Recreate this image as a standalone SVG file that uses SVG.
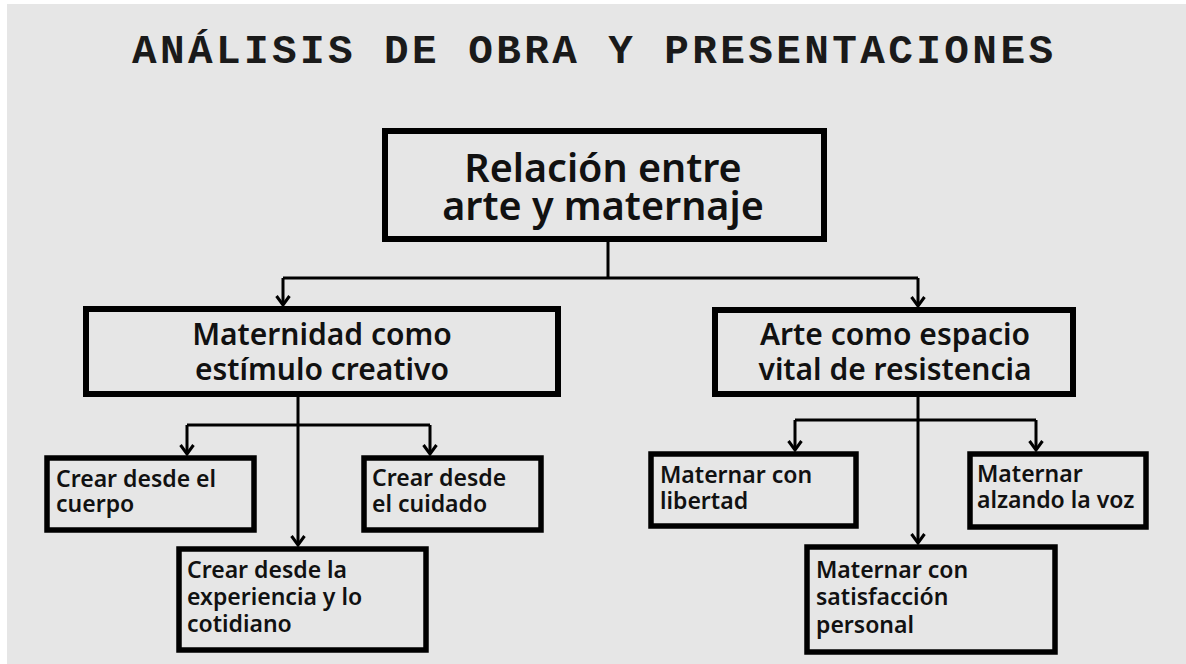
<svg xmlns="http://www.w3.org/2000/svg" width="1186" height="664" viewBox="0 0 1186 664">
<style>
.box{fill:#e6e6e6;stroke:#000;stroke-width:6}
.bx{fill:#e6e6e6;stroke:#000;stroke-width:5.5}
.t{font-family:"Noto Sans","Open Sans","Liberation Sans",sans-serif;font-weight:600;fill:#111}
.root{font-size:39.5px;text-anchor:middle}
.mid{font-size:30px;text-anchor:middle}
.sm{font-size:23px}
.title{font-family:"Liberation Mono","Courier New",monospace;font-weight:700;font-size:41px;fill:#1a1a1a}
.c{fill:none;stroke:#000;stroke-width:3}
</style>
<defs>
<marker id="ah" markerUnits="userSpaceOnUse" viewBox="-12 -9 14 18" refX="0" refY="0" markerWidth="14" markerHeight="18" orient="auto">
<path d="M-9,-6.5 L0,0 L-9,6.5" fill="none" stroke="#000" stroke-width="3"/>
</marker>
</defs>
<rect x="0" y="0" width="1186" height="664" fill="#fff"/>
<rect x="7" y="4" width="1179" height="660" fill="#e6e6e6"/>
<text class="title" x="132" y="63" textLength="921" lengthAdjust="spacing">ANÁLISIS DE OBRA Y PRESENTACIONES</text>
<g id="connectors">
<path class="c" d="M608,242 V278 M283,278 H918"/>
<path class="c" d="M283,278 V305" marker-end="url(#ah)"/>
<path class="c" d="M918,278 V306" marker-end="url(#ah)"/>
<path class="c" d="M187,425 H430"/>
<path class="c" d="M298,397 V545" marker-end="url(#ah)"/>
<path class="c" d="M187,425 V454" marker-end="url(#ah)"/>
<path class="c" d="M430,425 V454" marker-end="url(#ah)"/>
<path class="c" d="M795,420 H1036"/>
<path class="c" d="M918,397 V543" marker-end="url(#ah)"/>
<path class="c" d="M795,420 V450" marker-end="url(#ah)"/>
<path class="c" d="M1036,420 V450" marker-end="url(#ah)"/>
</g>
<g id="root">
<rect class="box" x="385" y="131" width="439" height="108"/>
<text class="t root" x="603" y="182">Relación entre</text>
<text class="t root" x="603" y="220">arte y maternaje</text>
</g>
<g id="maternidad">
<rect class="box" x="86" y="309" width="472" height="85"/>
<text class="t mid" x="322" y="345">Maternidad como</text>
<text class="t mid" x="322" y="380">estímulo creativo</text>
</g>
<g id="arte">
<rect class="box" x="715" y="310" width="358" height="84"/>
<text class="t mid" x="895" y="345">Arte como espacio</text>
<text class="t mid" x="895" y="380">vital de resistencia</text>
</g>
<g id="cuerpo">
<rect class="bx" x="47" y="458" width="207" height="72"/>
<text class="t sm" x="56" y="487">Crear desde el</text>
<text class="t sm" x="56" y="512">cuerpo</text>
</g>
<g id="cuidado">
<rect class="bx" x="364" y="458" width="177" height="72"/>
<text class="t sm" x="372" y="486">Crear desde</text>
<text class="t sm" x="372" y="512">el cuidado</text>
</g>
<g id="experiencia">
<rect class="bx" x="179" y="549" width="247" height="101"/>
<text class="t sm" x="187" y="578">Crear desde la</text>
<text class="t sm" x="187" y="605">experiencia y lo</text>
<text class="t sm" x="187" y="632">cotidiano</text>
</g>
<g id="libertad">
<rect class="bx" x="651" y="454" width="205" height="72"/>
<text class="t sm" x="660" y="483">Maternar con</text>
<text class="t sm" x="660" y="509">libertad</text>
</g>
<g id="alzando">
<rect class="bx" x="970" y="454" width="176" height="73"/>
<text class="t sm" x="977" y="482">Maternar</text>
<text class="t sm" x="977" y="508">alzando la voz</text>
</g>
<g id="satisfaccion">
<rect class="bx" x="807" y="547" width="248" height="105"/>
<text class="t sm" x="816" y="578">Maternar con</text>
<text class="t sm" x="816" y="605">satisfacción</text>
<text class="t sm" x="816" y="633">personal</text>
</g>
</svg>
